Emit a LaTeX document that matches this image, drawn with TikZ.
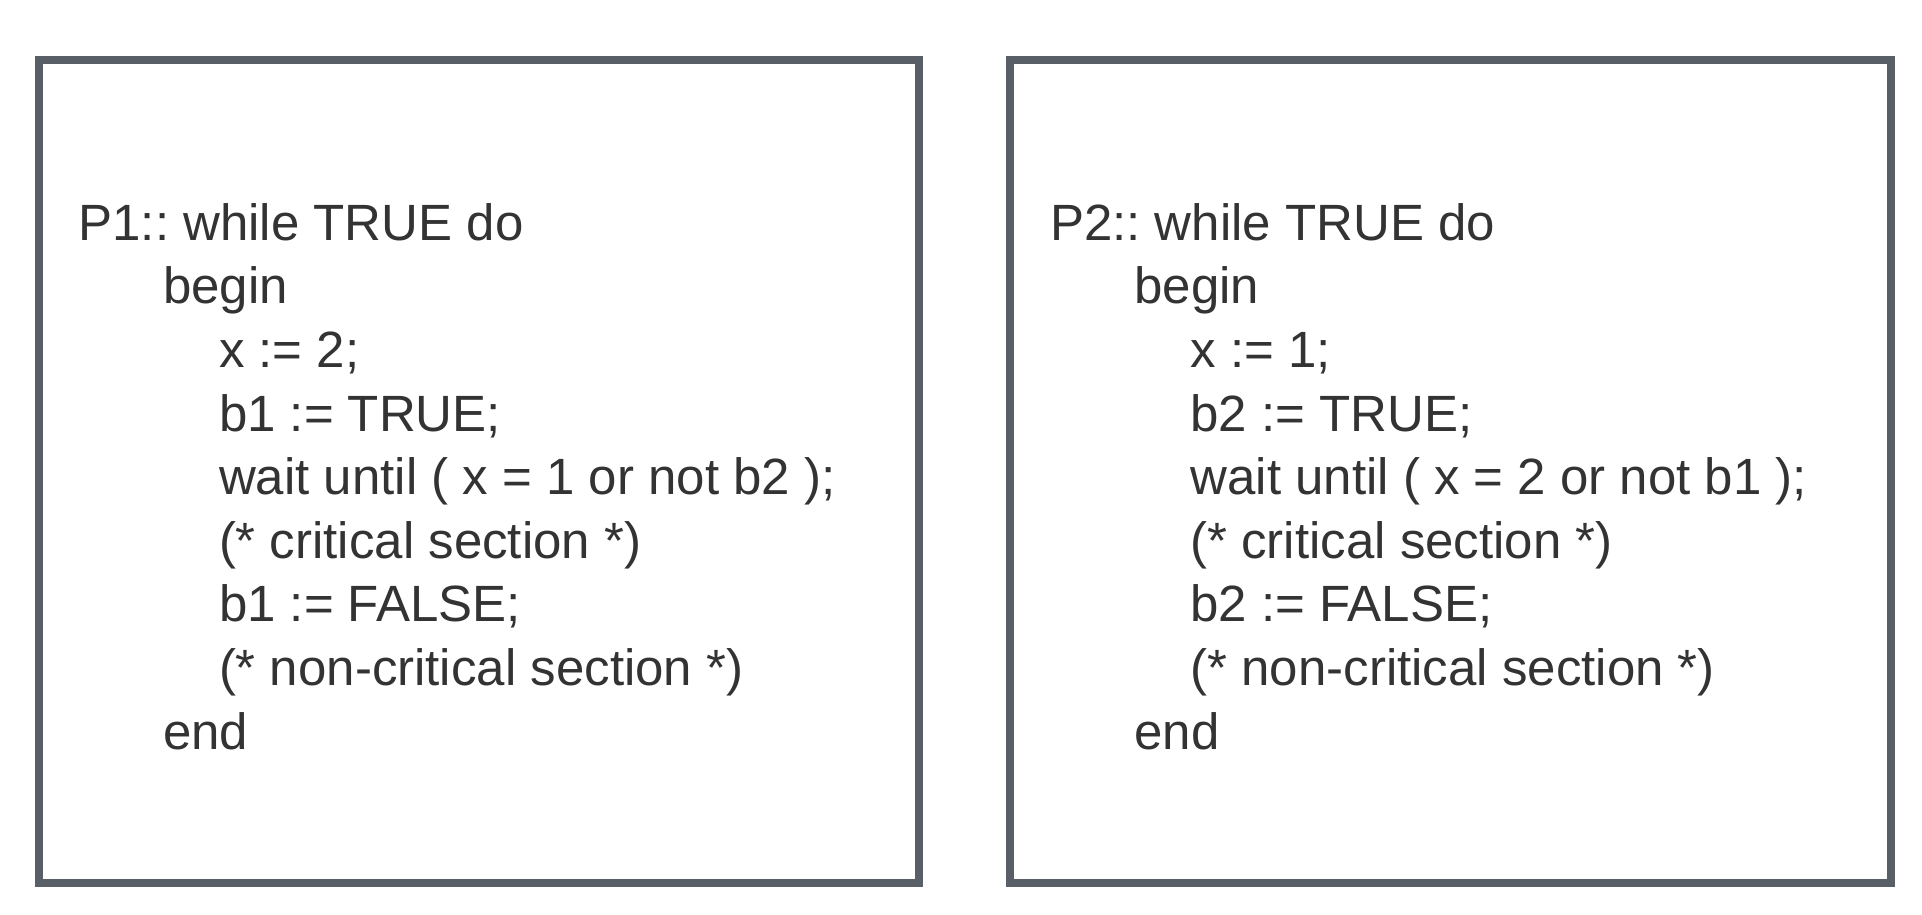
\documentclass[tikz,border=0pt]{standalone}
\usepackage{fontspec}
\setmainfont{Liberation Sans}
\usepackage{xcolor}
\usetikzlibrary{positioning}

\definecolor{frameGray}{RGB}{89,95,102}
\definecolor{codeGray}{RGB}{51,51,51}

\begin{document}
\frenchspacing
\begin{tikzpicture}[x=0.25pt, y=-0.25pt,
    procBox/.style={draw=frameGray, line width=2pt, fill=white, inner sep=0pt,
        minimum width=220.125pt, minimum height=205.75pt},
    codeText/.style={anchor=base west, align=left, inner sep=0pt, text=codeGray,
        font=\fontsize{12.75}{15.9}\selectfont}]
    \useasboundingbox (0,0) rectangle (1922,914);

    % two process boxes
    \node (box1) [procBox] at (478.75,471) {};
    \node (box2) [procBox] at (1450.5,471) {};

    % process code (anchored at the baseline of the last line)
    \node (codeP1) [codeText] at (81,749) {\hspace*{-0.8pt}P1:: while TRUE do\\
        \hspace*{20.3pt}begin\\
        \hspace*{34.3pt}x := 2;\\
        \hspace*{34.3pt}b1 := TRUE;\\
        \hspace*{34.3pt}wait until ( x = 1 or not b2 );\\
        \hspace*{34.3pt}(* critical section *)\\
        \hspace*{34.3pt}b1 := FALSE;\\
        \hspace*{34.3pt}(* non-critical section *)\\
        \hspace*{20.3pt}end};
    \node (codeP2) [codeText] at (1052.5,749) {\hspace*{-0.8pt}P2:: while TRUE do\\
        \hspace*{20.3pt}begin\\
        \hspace*{34.3pt}x := 1;\\
        \hspace*{34.3pt}b2 := TRUE;\\
        \hspace*{34.3pt}wait until ( x = 2 or not b1 );\\
        \hspace*{34.3pt}(* critical section *)\\
        \hspace*{34.3pt}b2 := FALSE;\\
        \hspace*{34.3pt}(* non-critical section *)\\
        \hspace*{20.3pt}end};
\end{tikzpicture}
\end{document}
